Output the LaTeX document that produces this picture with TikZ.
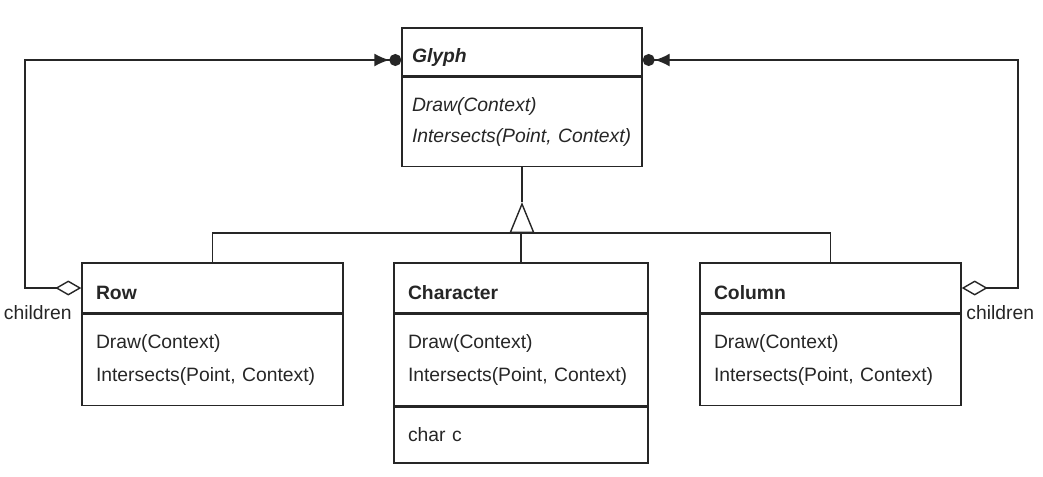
\documentclass[tikz,border=0pt]{standalone}
\usepackage{fontspec}
\setmainfont{Liberation Sans}
\usetikzlibrary{arrows.meta, positioning, calc}
\newcommand{\lowered}[1]{\raisebox{-0.1cm}[\height][\depth]{#1}}
\tikzset{
  classhead/.style = {rectangle, draw, inner xsep=0.28cm, inner ysep=0pt,
    minimum height=1cm, align=left, font=\fontsize{11}{13}\selectfont\bfseries},
  classbody/.style = {rectangle, draw, inner xsep=0.28cm, inner ysep=0pt,
    minimum height=1.82cm, align=left, font=\fontsize{11}{18.8}\selectfont},
  lbl/.style = {inner sep=0pt, font=\fontsize{11}{13}\selectfont},
  agg/.style = {{Diamond[open, length=0.52cm, width=0.3cm]}-{Latex[length=0.3cm, width=0.26cm, sep=0pt] Circle[length=0.24cm]}},
  gen/.style = {-{Triangle[open, length=0.62cm, width=0.5cm]}},
}
\begin{document}
\begin{tikzpicture}[line width=0.8pt, color=black!85]
  \useasboundingbox (0,0) rectangle (20.86,-9.52);

  % Superclass
  \node[classhead, font=\fontsize{11}{13}\selectfont\bfseries\itshape, inner xsep=0.2cm, text width=4.4cm, minimum height=0.96cm] (glyph) at (10.44,-1.04) {\lowered{Glyph}};
  \node[classbody, font=\fontsize{11}{17.6}\selectfont\itshape, inner xsep=0.2cm, text width=4.4cm, minimum height=1.78cm, below=0pt of glyph] (glyphops) {Draw(Context)\\Intersects(Point, Context)};

  % Subclasses
  \node[classhead, text width=4.66cm] (row) at (4.25,-5.76) {\lowered{Row}};
  \node[classbody, text width=4.66cm, below=0pt of row] (rowops) {Draw(Context)\\Intersects(Point, Context)};

  \node[classhead, text width=4.52cm] (char) at (10.42,-5.76) {\lowered{Character}};
  \node[classbody, text width=4.52cm, below=0pt of char] (charops) {Draw(Context)\\Intersects(Point, Context)};
  \node[classbody, text width=4.52cm, minimum height=1.12cm, below=0pt of charops] (charattr) {char c};

  \node[classhead, text width=4.66cm] (column) at (16.61,-5.76) {\lowered{Column}};
  \node[classbody, text width=4.66cm, below=0pt of column] (columnops) {Draw(Context)\\Intersects(Point, Context)};

  % Inheritance
  \coordinate (bus) at ($(glyphops.south)+(0,-1.32)$);
  \coordinate (apex) at ($(bus)+(0,0.62)$);
  \draw[gen] (bus) -- (apex);
  \draw (apex) -- (glyphops.south);
  \draw (row.north) |- (bus) -| (column.north);
  \draw (char.north) -- (char.north |- bus);

  % Aggregation
  \coordinate (lcorner) at (0.5,-1.2);
  \coordinate (rcorner) at (20.36,-1.2);
  \draw[agg] (row.west) -| (lcorner) -- (glyph.west |- lcorner);
  \draw[agg] (column.east) -| (rcorner) -- (glyph.east |- rcorner);
  \node[lbl, anchor=north east] (lchildren) at ([xshift=-0.18cm, yshift=-0.34cm]row.west) {children};
  \node[lbl, anchor=north west] (rchildren) at ([xshift=0.08cm, yshift=-0.34cm]column.east) {children};

\end{tikzpicture}
\end{document}
